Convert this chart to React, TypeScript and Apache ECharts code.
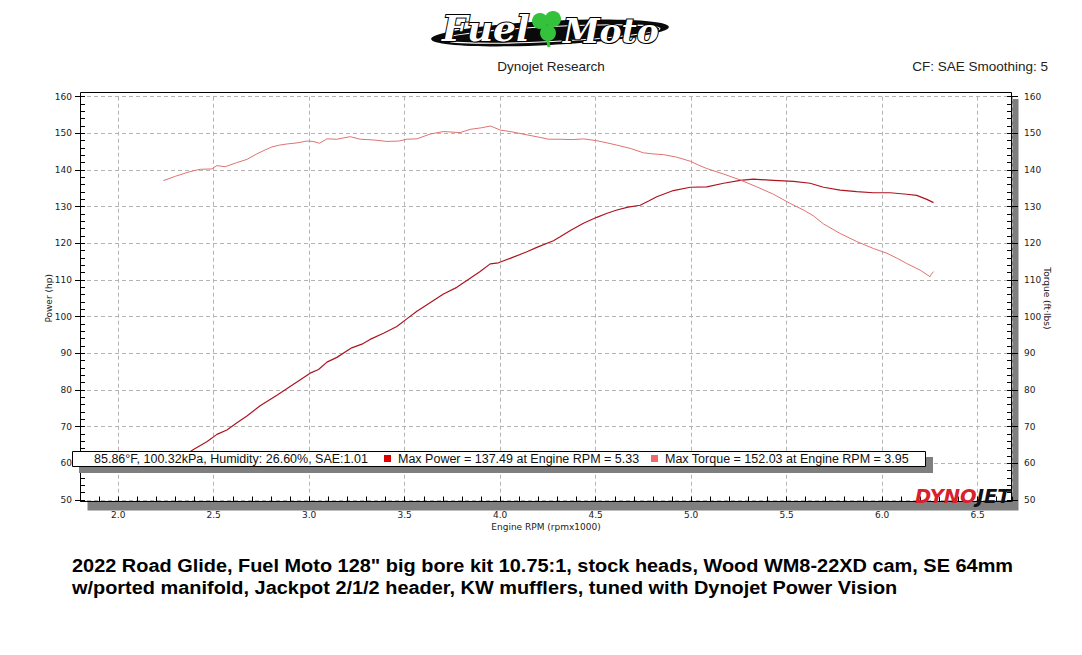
import React, { useEffect, useRef } from "react";
import * as echarts from "echarts";

const torqueRpm = [
  2.236, 2.3, 2.36, 2.394, 2.43, 2.49, 2.517, 2.56, 2.62, 2.674, 2.726, 2.77, 2.805, 2.845, 2.883,
  2.936, 2.988, 3.02, 3.054, 3.093, 3.145, 3.215, 3.267, 3.337, 3.407, 3.468, 3.511, 3.564, 3.633,
  3.703, 3.79, 3.843, 3.9, 3.95, 4.0, 4.052, 4.14, 4.209, 4.253, 4.314, 4.38, 4.436, 4.506, 4.56,
  4.611, 4.681, 4.75, 4.8, 4.855, 4.925, 4.995, 5.04, 5.082, 5.17, 5.257, 5.344, 5.431, 5.518, 5.588,
  5.64, 5.693, 5.78, 5.867, 5.954, 6.025, 6.08, 6.129, 6.199, 6.251, 6.258, 6.269,
];
const torqueVals = [
  137.1, 138.3, 139.3, 139.8, 140.2, 140.3, 141.2, 140.9, 142.0, 142.9, 144.4, 145.5, 146.3, 146.8,
  147.1, 147.4, 147.9, 147.8, 147.3, 148.5, 148.4, 149.1, 148.4, 148.2, 147.8, 147.9, 148.4, 148.5,
  149.8, 150.5, 150.2, 151.1, 151.5, 152.0, 150.9, 150.5, 149.6, 148.9, 148.4, 148.4, 148.3, 148.5,
  148.0, 147.4, 146.8, 145.9, 144.7, 144.4, 144.2, 143.5, 142.4, 141.3, 140.4, 138.9, 137.3, 135.4,
  133.4, 130.9, 129.1, 127.5, 125.3, 122.7, 120.5, 118.6, 117.3, 115.9, 114.5, 112.7, 110.9, 111.6,
  112.3,
];
const powerRpm = [
  2.236, 2.3, 2.35, 2.394, 2.464, 2.517, 2.569, 2.62, 2.674, 2.743, 2.831, 2.918, 3.005, 3.049, 3.093,
  3.145, 3.223, 3.276, 3.319, 3.389, 3.459, 3.511, 3.564, 3.633, 3.703, 3.773, 3.843, 3.895, 3.948,
  3.991, 4.052, 4.14, 4.192, 4.279, 4.314, 4.37, 4.436, 4.506, 4.56, 4.611, 4.67, 4.733, 4.78, 4.82,
  4.907, 4.995, 5.082, 5.17, 5.257, 5.326, 5.431, 5.536, 5.623, 5.693, 5.78, 5.867, 5.954, 6.042,
  6.129, 6.181, 6.234, 6.269,
];
const powerVals = [
  58.6, 60.6, 62.3, 63.8, 65.9, 67.9, 69.1, 71.0, 72.9, 75.7, 78.6, 81.6, 84.6, 85.6, 87.6, 88.9, 91.5,
  92.5, 93.8, 95.5, 97.3, 99.4, 101.5, 103.8, 106.2, 108.0, 110.5, 112.3, 114.4, 114.7, 115.9, 117.7,
  118.9, 120.7, 121.8, 123.6, 125.5, 127.1, 128.2, 129.1, 129.9, 130.4, 131.6, 132.7, 134.4, 135.3,
  135.4, 136.4, 137.2, 137.5, 137.2, 136.9, 136.4, 135.3, 134.5, 134.1, 133.8, 133.8, 133.4, 133.1,
  132.0, 131.1,
];

const xRange = [1.8, 6.68];
const yRange = [50, 160];
const conditionsText = "85.86°F, 100.32kPa, Humidity: 26.60%, SAE:1.01";
const maxPowerText = "Max Power = 137.49 at Engine RPM = 5.33";
const maxTorqueText = "Max Torque = 152.03 at Engine RPM = 3.95";
const captionLines = [
  '2022 Road Glide, Fuel Moto 128" big bore kit 10.75:1, stock heads, Wood WM8-22XD cam, SE 64mm',
  "w/ported manifold, Jackpot 2/1/2 header, KW mufflers, tuned with Dynojet Power Vision",
];

const POWER_COLOR = "#ad1420";
const TORQUE_COLOR = "#e07272";
const AXIS_FONT = "DejaVu Sans";
const LABEL_COLOR = "#222";

export default function App() {
  const ref = useRef<HTMLDivElement>(null);

  useEffect(() => {
    if (!ref.current) return;
    const chart = echarts.init(ref.current, undefined, { renderer: "svg" });

    const gridLine = { show: true, lineStyle: { color: "#b4b4b4", type: [4, 3] as any, width: 1 } };
    const labelStyle = { fontFamily: AXIS_FONT, fontSize: 9, color: LABEL_COLOR };

    const option: any = {
      animation: false,
      backgroundColor: "#ffffff",
      grid: {
        left: 80,
        right: 70,
        top: 96.7,
        bottom: 155,
        outerBoundsMode: "none",
        containLabel: false,
      },
      xAxis: [
        {
          type: "value",
          min: xRange[0],
          max: xRange[1],
          interval: 0.1,
          position: "bottom",
          offset: 1.5,
          axisLine: { show: false },
          axisTick: { show: true, inside: true, length: 5, lineStyle: { color: "#000" } },
          axisLabel: {
            ...labelStyle,
            margin: 9,
            formatter: (v: number) => {
              const d = v * 2;
              return Math.abs(d - Math.round(d)) < 1e-6 ? v.toFixed(1) : "";
            },
          },
          splitLine: { show: false },
          name: "Engine RPM (rpmx1000)",
          nameLocation: "middle",
          nameGap: 21,
          nameMoveOverlap: false,
          nameTextStyle: { fontFamily: AXIS_FONT, fontSize: 9, color: LABEL_COLOR },
        },
        {
          type: "value",
          min: xRange[0],
          max: xRange[1],
          splitNumber: 10,
          position: "top",
          axisLine: { show: false },
          axisTick: { show: false },
          axisLabel: { show: false },
          splitLine: gridLine,
        },
      ],
      yAxis: [
        {
          type: "value",
          min: yRange[0],
          max: yRange[1],
          interval: 10,
          position: "left",
          axisLine: { show: false },
          axisTick: { show: true, inside: false, length: 5, lineStyle: { color: "#000" } },
          axisLabel: { ...labelStyle, margin: 8 },
          splitLine: gridLine,
          name: "Power (hp)",
          nameLocation: "middle",
          nameGap: 27,
          nameMoveOverlap: false,
          nameTextStyle: { fontFamily: AXIS_FONT, fontSize: 9, color: LABEL_COLOR },
        },
        {
          type: "value",
          min: yRange[0],
          max: yRange[1],
          interval: 10,
          position: "right",
          axisLine: { show: false },
          axisTick: { show: true, inside: false, length: 6, lineStyle: { color: "#000" } },
          axisLabel: { ...labelStyle, margin: 12 },
          splitLine: { show: false },
          name: "Torque (ft·lbs)",
          nameLocation: "middle",
          nameRotate: -90,
          nameGap: 30,
          nameMoveOverlap: false,
          nameTextStyle: { fontFamily: AXIS_FONT, fontSize: 9, color: LABEL_COLOR },
        },
        {
          type: "value",
          min: yRange[0],
          max: yRange[1],
          interval: 2,
          position: "left",
          axisLine: { show: false },
          axisTick: { show: true, inside: true, length: 5, lineStyle: { color: "#000" } },
          axisLabel: { show: false },
          splitLine: { show: false },
        },
        {
          type: "value",
          min: yRange[0],
          max: yRange[1],
          interval: 2,
          position: "right",
          axisLine: { show: false },
          axisTick: { show: true, inside: true, length: 5, lineStyle: { color: "#000" } },
          axisLabel: { show: false },
          splitLine: { show: false },
        },
      ],
      series: [
        {
          name: "Power",
          type: "line",
          xAxisIndex: 0,
          yAxisIndex: 0,
          symbol: "none",
          showSymbol: false,
          lineStyle: { color: POWER_COLOR, width: 1.2 },
          itemStyle: { color: POWER_COLOR },
          data: powerRpm.map((r, i) => [r, powerVals[i]]),
          z: 2,
        },
        {
          name: "Torque",
          type: "line",
          xAxisIndex: 0,
          yAxisIndex: 1,
          symbol: "none",
          showSymbol: false,
          lineStyle: { color: TORQUE_COLOR, width: 1 },
          itemStyle: { color: TORQUE_COLOR },
          data: torqueRpm.map((r, i) => [r, torqueVals[i]]),
          z: 2,
        },
      ],
      graphic: [
        // plot shadow + background + frame
        { type: "rect", z: -3, silent: true, shape: { x: 87.5, y: 99, width: 931, height: 411.5 }, style: { fill: "#7f7f7f" } },
        { type: "rect", z: -2, silent: true, shape: { x: 80.5, y: 92.5, width: 931, height: 409 }, style: { fill: "#ffffff" } },
        { type: "rect", z: 5, silent: true, shape: { x: 80.5, y: 92.5, width: 931, height: 409 }, style: { fill: "none", stroke: "#000", lineWidth: 1 } },

        // Fuel Moto logo
        { type: "ellipse", z: 1, x: 550, y: 33, rotation: 0.05, shape: { cx: 0, cy: 0, rx: 119, ry: 12 }, style: { fill: "#0a0a0a" } },
        { type: "ellipse", z: 1, x: 552, y: 34, rotation: 0.05, shape: { cx: 0, cy: 0, rx: 108, ry: 7.5 }, style: { fill: "none", stroke: "#ffffff", lineWidth: 1.2 } },
        { type: "text", z: 2, x: 442, y: 28, style: { text: "Fuel", font: 'italic bold 36px "DejaVu Serif"', fill: "#ffffff", stroke: "#000000", lineWidth: 2, verticalAlign: "middle" } },
        { type: "text", z: 2, x: 563, y: 31, style: { text: "Moto", font: 'italic bold 33px "DejaVu Serif"', fill: "#ffffff", stroke: "#000000", lineWidth: 2, verticalAlign: "middle" } },
        { type: "circle", z: 3, shape: { cx: 540, cy: 21, r: 8 }, style: { fill: "#34c13c" } },
        { type: "circle", z: 3, shape: { cx: 553, cy: 19, r: 8 }, style: { fill: "#34c13c" } },
        { type: "circle", z: 3, shape: { cx: 548, cy: 33, r: 8 }, style: { fill: "#34c13c" } },
        { type: "line", z: 3, shape: { x1: 547, y1: 36, x2: 549, y2: 47 }, style: { stroke: "#34c13c", lineWidth: 3 } },

        // header texts
        { type: "text", x: 551, y: 66, style: { text: "Dynojet Research", font: '13.5px "Liberation Sans"', fill: "#222", align: "center", verticalAlign: "middle" } },
        { type: "text", x: 1048, y: 66, style: { text: "CF: SAE Smoothing: 5", font: '13.5px "Liberation Sans"', fill: "#222", align: "right", verticalAlign: "middle" } },

        // legend box
        { type: "rect", z: 10, silent: true, shape: { x: 79, y: 457, width: 854, height: 16 }, style: { fill: "#7f7f7f" } },
        { type: "rect", z: 11, silent: true, shape: { x: 72.5, y: 451.5, width: 853, height: 15 }, style: { fill: "#ffffff", stroke: "#000", lineWidth: 1 } },
        { type: "text", z: 12, x: 94, y: 459, style: { text: conditionsText, font: '12.5px "Liberation Sans"', fill: "#111", verticalAlign: "middle" } },
        { type: "rect", z: 12, shape: { x: 384, y: 455, width: 7, height: 7 }, style: { fill: "#dd0000" } },
        { type: "text", z: 12, x: 398, y: 459, style: { text: maxPowerText, font: '12.5px "Liberation Sans"', fill: "#111", verticalAlign: "middle" } },
        { type: "rect", z: 12, shape: { x: 651, y: 455, width: 7, height: 7 }, style: { fill: "#f06a6a" } },
        { type: "text", z: 12, x: 665, y: 459, style: { text: maxTorqueText, font: '12.5px "Liberation Sans"', fill: "#111", verticalAlign: "middle" } },

        // DYNOJET mark
        {
          type: "text",
          z: 12,
          x: 915,
          y: 496,
          style: {
            text: "{a|DYNO}{b|JET}",
            verticalAlign: "middle",
            rich: {
              a: { fill: "#d8202f", fontFamily: "DejaVu Sans", fontWeight: 900, fontStyle: "italic", fontSize: 19.5 },
              b: { fill: "#111111", fontFamily: "DejaVu Sans", fontWeight: 900, fontStyle: "italic", fontSize: 19.5 },
            },
          },
        },

        // caption
        { type: "text", x: 72, y: 566, scaleX: 1.077, style: { text: captionLines[0], font: 'bold 18.5px "Liberation Sans"', fill: "#000", verticalAlign: "middle" } },
        { type: "text", x: 72, y: 588, scaleX: 1.077, style: { text: captionLines[1], font: 'bold 18.5px "Liberation Sans"', fill: "#000", verticalAlign: "middle" } },
      ],
    };

    chart.setOption(option);
    return () => chart.dispose();
  }, []);

  return (
    <div
      ref={ref}
      style={{ position: "fixed", left: 0, top: 0, width: 1082, height: 655, background: "#fff" }}
    />
  );
}
